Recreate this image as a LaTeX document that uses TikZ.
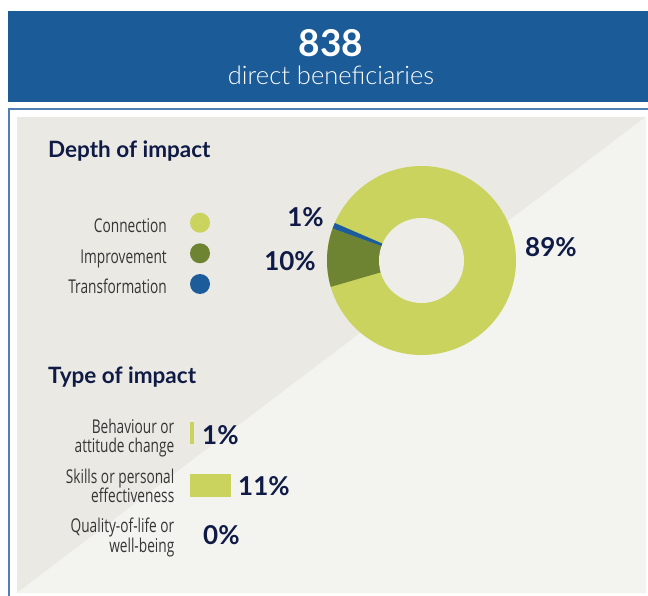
\documentclass[tikz,border=0pt]{standalone}
\usepackage{fontspec}
\setmainfont{Lato}
\newfontfamily\lightfont{Lato Light}
\newfontfamily\condfont[FakeStretch=0.72]{Open Sans}
\definecolor{hdrblue}{HTML}{1B5B97}
\definecolor{brdblue}{HTML}{4F7FB5}
\definecolor{bgdark}{HTML}{EAE9E3}
\definecolor{bglight}{HTML}{F3F3EF}
\definecolor{holec}{HTML}{EEEDE8}
\definecolor{lgreen}{HTML}{C9D35D}
\definecolor{olive}{HTML}{6E8433}
\definecolor{dblue}{HTML}{1C5C9A}
\definecolor{navy}{HTML}{0F1B46}
\definecolor{lgray}{HTML}{363636}
\begin{document}
\begin{tikzpicture}[x=1pt,y=-1pt,
  heading/.style={font=\bfseries\fontsize{22.5}{26}\selectfont, text=navy, inner sep=0pt, anchor=base west},
  pct/.style={font=\bfseries\fontsize{26}{30}\selectfont, text=navy, inner sep=0pt},
  legtext/.style={font=\condfont\fontsize{19}{21}\selectfont, text=lgray, inner sep=0pt, anchor=base east},
  typetext/.style={font=\condfont\fontsize{19}{19.5}\selectfont, text=lgray, inner sep=0pt, align=right, anchor=base east},
  dot/.style={circle, minimum size=20pt, inner sep=0pt}
]
\useasboundingbox (0,0) rectangle (648,596);
\fill[white] (0,0) rectangle (648,596);
% header
\fill[hdrblue] (8,11) rectangle (648,102);
\node[font=\bfseries\fontsize{37}{40}\selectfont, text=white, inner sep=0pt, anchor=base] (num) at (331,57) {838};
\node[font=\lightfont\fontsize{25.5}{28}\selectfont, text=white, inner sep=0pt, anchor=base] (sub) at (331,85) {direct beneficiaries};
% frame
\draw[brdblue, line width=2pt] (648,109.5) -- (9,109.5) -- (9,596);
% panel
\fill[bgdark] (16.7,116.7) rectangle (646,593);
\fill[bglight] (16.7,593) -- (646,116.7) -- (646,593) -- cycle;
% depth of impact
\node[heading] (h1) at (48,158) {Depth of impact};
\node[legtext] (l1) at (167,232.5) {Connection};
\node[legtext] (l2) at (167,263) {Improvement};
\node[legtext] (l3) at (167,293) {Transformation};
\node[dot, fill=lgreen] (d1) at (200,222.7) {};
\node[dot, fill=olive] (d2) at (200,253.3) {};
\node[dot, fill=dblue] (d3) at (200,284) {};
% donut
\coordinate (c) at (421.5,260.5);
\fill[lgreen] (c) circle[radius=94.5pt];
\fill[olive] (c) -- ++(160.2:94.5pt) arc[start angle=160.2, end angle=196.2, radius=94.5pt] -- cycle;
\fill[dblue] (c) -- ++(156.6:94.5pt) arc[start angle=156.6, end angle=160.2, radius=94.5pt] -- cycle;
\fill[holec] (c) circle[radius=42.5pt];
\node[pct, anchor=base east] (p1) at (324,226) {1\%};
\node[pct, anchor=base east] (p10) at (316,270) {10\%};
\node[pct, anchor=base west] (p89) at (525,256) {89\%};
% type of impact
\node[heading] (h2) at (48,383) {Type of impact};
\node[typetext] (t1) at (174.5,452.5) {Behaviour or\\attitude change};
\node[typetext] (t2) at (174.5,502.5) {Skills or personal\\effectiveness};
\node[typetext] (t3) at (174.5,552) {Quality-of-life or\\well-being};
\fill[lgreen] (190,422) rectangle (194,444);
\fill[lgreen] (190,474) rectangle (231,497);
\node[pct, anchor=base west] (q1) at (202,444) {1\%};
\node[pct, anchor=base west] (q2) at (238,495) {11\%};
\node[pct, anchor=base west] (q3) at (203,544) {0\%};
\end{tikzpicture}
\end{document}
